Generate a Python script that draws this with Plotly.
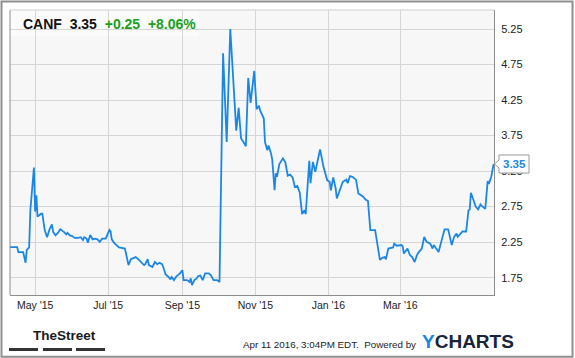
import pandas as pd
import plotly.graph_objects as go

# ---------------- data ----------------
ticker = "CANF"
last_price = 3.35
change = 0.25
change_pct = 8.06
timestamp = "Apr 11 2016, 3:04PM EDT."

start_date = "2015-04-10"
day_offsets = [
    0, 6, 7, 11, 13, 14, 16, 17, 20, 21,
    22, 23, 26, 27, 29, 31, 33, 35, 36, 38,
    40, 42, 45, 47, 48, 50, 52, 54, 57, 59,
    61, 62, 64, 65, 67, 69, 71, 73, 75, 77,
    80, 81, 83, 84, 85, 87, 91, 96, 98, 99,
    101, 105, 107, 110, 112, 113, 115, 116, 119, 121,
    123, 125, 127, 128, 130, 133, 134, 135, 137, 139,
    141, 142, 144, 145, 148, 150, 151, 152, 154, 156,
    157, 159, 161, 163, 165, 166, 168, 170, 173, 175,
    178, 181, 184, 187, 189, 191, 193, 195, 197, 199,
    201, 204, 206, 208, 209, 212, 213, 215, 216, 218,
    219, 221, 222, 223, 225, 228, 230, 232, 234, 236,
    238, 240, 242, 244, 246, 247, 250, 251, 253, 255,
    259, 262, 264, 265, 267, 268, 270, 272, 273, 276,
    278, 281, 282, 284, 286, 289, 291, 295, 297, 299,
    301, 305, 309, 311, 313, 314, 316, 320, 321, 323,
    327, 328, 329, 332, 334, 336, 338, 340, 341, 344,
    346, 348, 351, 353, 354, 356, 358, 360, 363, 366,
    369, 371, 373, 374, 377, 378, 381, 383, 384, 385,
    387, 389, 391, 393, 394, 396, 397, 399, 400, 402,
    404,
]
prices = [
    2.18, 2.18, 2.11, 2.11, 1.96, 2.14, 2.175, 2.70, 3.30, 2.68,
    2.91, 2.61, 2.65, 2.65, 2.42, 2.32, 2.43, 2.50, 2.395, 2.345,
    2.38, 2.43, 2.395, 2.36, 2.38, 2.345, 2.335, 2.31, 2.31, 2.32,
    2.28, 2.32, 2.30, 2.24, 2.35, 2.29, 2.30, 2.29, 2.255, 2.30,
    2.30, 2.35, 2.42, 2.40, 2.29, 2.24, 2.175, 2.16, 2.02, 1.926,
    2.01, 2.04, 2.01, 1.96, 1.926, 1.94, 2.01, 1.926, 1.90, 1.97,
    1.94, 1.96, 1.94, 1.90, 1.795, 1.75, 1.725, 1.76, 1.715, 1.77,
    1.80, 1.81, 1.855, 1.715, 1.715, 1.69, 1.74, 1.645, 1.715, 1.74,
    1.77, 1.78, 1.715, 1.81, 1.81, 1.81, 1.78, 1.715, 1.715, 1.69,
    4.91, 3.66, 5.25, 4.415, 3.82, 4.14, 3.71, 3.66, 3.60, 4.56,
    4.21, 4.66, 4.12, 4.17, 4.10, 3.99, 3.66, 3.545, 3.61, 3.50,
    3.42, 2.98, 3.22, 3.17, 3.35, 3.43, 3.375, 3.185, 3.20, 3.16,
    3.025, 3.04, 2.95, 2.645, 2.70, 2.645, 3.395, 3.08, 3.38, 3.24,
    3.555, 3.30, 3.19, 3.12, 3.10, 2.98, 3.16, 3.01, 2.865, 3.02,
    3.10, 3.13, 3.08, 3.18, 3.17, 3.13, 2.935, 2.89, 2.85, 2.83,
    2.42, 2.42, 2.00, 2.03, 2.04, 2.01, 2.16, 2.175, 2.23, 2.20,
    2.21, 2.19, 2.09, 2.16, 2.07, 2.04, 1.97, 2.07, 2.10, 2.16,
    2.325, 2.255, 2.23, 2.16, 2.21, 2.16, 2.11, 2.24, 2.43, 2.43,
    2.21, 2.325, 2.37, 2.325, 2.38, 2.40, 2.40, 2.70, 2.71, 2.945,
    2.85, 2.75, 2.71, 2.78, 2.76, 2.73, 2.72, 3.11, 3.07, 3.17,
    3.35,
]
y_ticks = [1.75, 2.25, 2.75, 3.25, 3.75, 4.25, 4.75, 5.25]
x_tick_dates = ["2015-05-01", "2015-07-01", "2015-09-01",
                "2015-11-01", "2016-01-01", "2016-03-01"]
x_tick_labels = ["May '15", "Jul '15", "Sep '15", "Nov '15", "Jan '16", "Mar '16"]
x_range = ["2015-04-10", "2016-05-18 07:00"]
y_range = [1.506, 5.518]

# ---------------- layout helpers ----------------
W, H = 575, 358
ML, MR, MT, MB = 10, 81, 10, 63
PW, PH = W - ML - MR, H - MT - MB


def px_x(px):
    return (px - ML) / PW


def px_y(py):
    return (H - MB - py) / PH


FONT = "Liberation Sans, Arial, sans-serif"
BLUE = "#1b87e5"
GREEN = "#18a018"

dates = pd.Timestamp(start_date) + pd.to_timedelta(day_offsets, unit="D")

fig = go.Figure()
fig.add_trace(go.Scatter(
    x=dates, y=prices, mode="lines",
    line=dict(color=BLUE, width=1.8),
    hoverinfo="skip", showlegend=False,
))

shapes = [
    # outer frame
    dict(type="rect", xref="paper", yref="paper",
         x0=px_x(1.5), x1=px_x(572.5), y0=px_y(356.7), y1=px_y(1.5),
         line=dict(color="#8f8f8f", width=2), fillcolor="rgba(0,0,0,0)", layer="above"),
    # plot area left border
    dict(type="line", xref="paper", yref="paper", x0=0, x1=0, y0=0, y1=1,
         line=dict(color="#8c8c8c", width=1), layer="above"),
    # plot area top border
    dict(type="line", xref="paper", yref="paper", x0=0, x1=1, y0=1, y1=1,
         line=dict(color="#d0d0d0", width=1), layer="above"),
    # title background box
    dict(type="rect", xref="paper", yref="paper",
         x0=0, x1=px_x(199), y0=px_y(36), y1=1,
         line=dict(width=0), fillcolor="rgba(255,255,255,0.55)", layer="between"),
    # last price callout
    dict(type="path", xref="paper", yref="y", xsizemode="pixel", ysizemode="pixel",
         xanchor=1, yanchor=prices[-1],
         path="M 5 9 L 35 9 L 35 -9 L 5 -9 L 5 -4 L 0.5 0 L 5 4 Z",
         fillcolor="white", line=dict(color="#9a9a9a", width=1), layer="above"),
]
# TheStreet logo bars
for x0, x1 in [(9, 38), (43, 72), (76, 105)]:
    shapes.append(dict(type="rect", xref="paper", yref="paper",
                       x0=px_x(x0), x1=px_x(x1), y0=px_y(351), y1=px_y(348),
                       line=dict(width=0), fillcolor="#333333"))

nb = "\u00a0\u00a0"
annotations = [
    dict(xref="paper", yref="paper", x=px_x(21), y=px_y(23.5),
         xanchor="left", yanchor="middle", showarrow=False,
         text=f"<b>{ticker}{nb}{last_price:.2f}{nb}<span style='color:{GREEN}'>"
              f"+{change:.2f}{nb}+{change_pct:.2f}%</span></b>",
         font=dict(family=FONT, size=14, color="#111111")),
    dict(xref="paper", yref="y", x=1, y=prices[-1], xanchor="center", yanchor="middle",
         xshift=20, showarrow=False, text=f"<b>{last_price:.2f}</b>",
         font=dict(family=FONT, size=11.5, color=BLUE)),
    dict(xref="paper", yref="paper", x=px_x(31), y=px_y(335.5),
         xanchor="left", yanchor="middle", showarrow=False,
         text="<b>TheStreet</b>",
         font=dict(family=FONT, size=13.5, color="#1a1a1a")),
    dict(xref="paper", yref="paper", x=px_x(418), y=px_y(344.5),
         xanchor="right", yanchor="middle", showarrow=False,
         text=f"{timestamp}\u00a0 Powered by",
         font=dict(family=FONT, size=9.8, color="#222222")),
    dict(xref="paper", yref="paper", x=px_x(420), y=px_y(341.5),
         xanchor="left", yanchor="middle", showarrow=False,
         text=f"<b><span style='color:{BLUE}'>Y</span>CHARTS</b>",
         font=dict(family=FONT, size=19, color="#17243b")),
]

fig.update_layout(
    width=W, height=H,
    margin=dict(l=ML, r=MR, t=MT, b=MB, pad=0),
    paper_bgcolor="white", plot_bgcolor="#f7f7f7",
    showlegend=False,
    shapes=shapes, annotations=annotations,
    xaxis=dict(
        type="date", range=x_range,
        tickmode="array", tickvals=x_tick_dates, ticktext=x_tick_labels,
        showgrid=True, gridcolor="#d6d6d6", gridwidth=1,
        showline=True, linecolor="#8c8c8c", linewidth=1,
        ticks="", zeroline=False, fixedrange=True,
        tickfont=dict(family=FONT, size=10.5, color="#222222"),
    ),
    yaxis=dict(
        side="right", range=y_range,
        tickmode="array", tickvals=y_ticks, ticktext=[f"{v:.2f}" for v in y_ticks],
        showgrid=True, gridcolor="#d6d6d6", gridwidth=1,
        showline=True, linecolor="#8c8c8c", linewidth=1,
        ticks="", ticklabelstandoff=4, zeroline=False, fixedrange=True,
        tickfont=dict(family=FONT, size=11, color="#222222"),
    ),
)

fig.write_html(
    "out.html",
    config={"displayModeBar": False},
    post_script="document.body.style.margin='0';document.body.style.overflow='hidden';",
)
